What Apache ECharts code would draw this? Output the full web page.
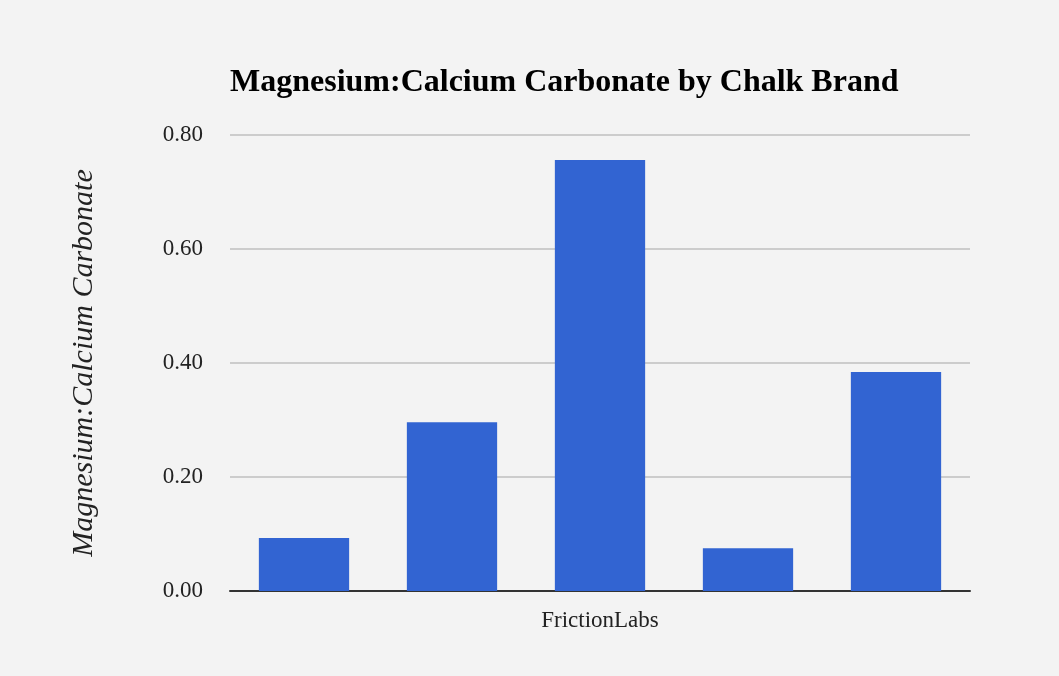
<!DOCTYPE html>
<html>
<head>
<meta charset="utf-8">
<script src="https://cdn.jsdelivr.net/npm/echarts@6/dist/echarts.min.js"></script>
<style>
  html, body { margin: 0; padding: 0; background: #f3f3f3; }
  #chart { width: 1059px; height: 676px; }
</style>
</head>
<body>
<div id="chart"></div>
<script>
const brands = ["", "", "FrictionLabs", "", ""];
const ratios = [0.093, 0.296, 0.756, 0.075, 0.384];
const yTicks = [0, 0.2, 0.4, 0.6, 0.8];

function dibujarGrafico() {
  const chart = echarts.init(document.getElementById("chart"));
  const serif = "Liberation Serif, Times New Roman, serif";

  const option = {
    backgroundColor: "#f3f3f3",
    animation: false,
    title: {
      text: "Magnesium:Calcium Carbonate by Chalk Brand",
      left: 225,
      top: 62,
      textStyle: { fontFamily: serif, fontSize: 32, fontWeight: "bold", color: "#000" }
    },
    grid: { left: 230, right: 89, top: 135, bottom: 85 },
    xAxis: {
      type: "category",
      data: brands,
      axisLine: { lineStyle: { color: "#333", width: 2 } },
      axisTick: { show: false },
      axisLabel: { fontFamily: serif, fontSize: 23, color: "#222", margin: 18, interval: 0 }
    },
    yAxis: {
      type: "value",
      min: yTicks[0],
      max: yTicks[yTicks.length - 1],
      interval: 0.2,
      name: "Magnesium:Calcium Carbonate",
      nameLocation: "middle",
      nameGap: 131,
      nameTextStyle: { fontFamily: serif, fontSize: 30, fontStyle: "italic", color: "#222" },
      axisLine: { show: false },
      axisTick: { show: false },
      axisLabel: {
        fontFamily: serif, fontSize: 23, color: "#222", margin: 27,
        formatter: v => v.toFixed(2)
      },
      splitLine: { lineStyle: { color: "#cccccc", width: 2 } }
    },
    series: [{
      type: "bar",
      data: ratios,
      barWidth: "61%",
      itemStyle: { color: "#3264d2" }
    }]
  };

  chart.setOption(option);
  window.addEventListener("resize", () => chart.resize());
}

document.addEventListener("DOMContentLoaded", dibujarGrafico);
</script>
</body>
</html>
